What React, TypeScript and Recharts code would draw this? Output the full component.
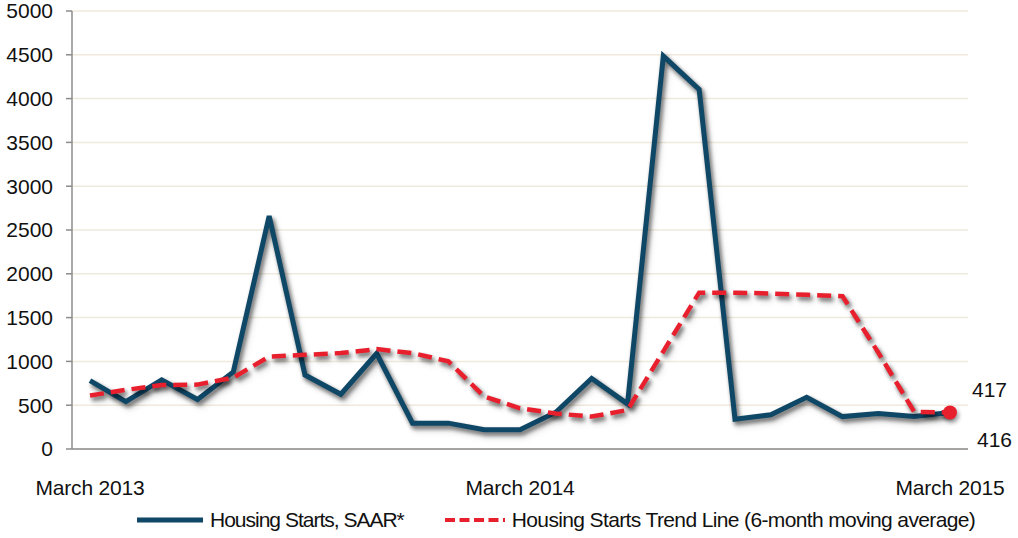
import { LineChart, Line, XAxis, YAxis, CartesianGrid, Legend } from "recharts"

const months = [
  "March 2013", "April 2013", "May 2013", "June 2013", "July 2013", "August 2013",
  "September 2013", "October 2013", "November 2013", "December 2013", "January 2014", "February 2014",
  "March 2014", "April 2014", "May 2014", "June 2014", "July 2014", "August 2014",
  "September 2014", "October 2014", "November 2014", "December 2014", "January 2015", "February 2015",
  "March 2015"
]

const starts = [780, 540, 790, 565, 880, 2660, 845, 625, 1090, 295, 295, 220, 220, 420, 805, 515, 4485, 4105, 340, 390, 590, 370, 405, 370, 416]

const trend = [610, 675, 730, 735, 815, 1055, 1075, 1095, 1140, 1095, 1000, 600, 465, 405, 370, 445, 1115, 1785, 1785, 1775, 1760, 1745, 1100, 425, 417]

const yTicks = [0, 500, 1000, 1500, 2000, 2500, 3000, 3500, 4000, 4500, 5000]

const BLUE = "#0f4767"
const RED = "#e8202e"
const FONT = "'Liberation Sans', Arial, sans-serif"

const data = months.map((m, i) => ({ month: m, starts: starts[i], trend: trend[i] }))
const last = data.length - 1

function TrendDot(props: any) {
  if (props.index !== last) return null
  return <circle cx={props.cx} cy={props.cy} r={7} fill={RED} className="shadowed" />
}

function TrendLabel(props: any) {
  if (props.index !== last) return null
  return (
    <text x={props.x + 22} y={props.y - 15} fontSize={21} fill="#111" fontFamily={FONT}>
      {props.value}
    </text>
  )
}

function StartsLabel(props: any) {
  if (props.index !== last) return null
  return (
    <text x={props.x + 27} y={props.y + 34} fontSize={21} fill="#111" fontFamily={FONT}>
      {props.value}
    </text>
  )
}

function LegendContent() {
  return (
    <div style={{ display: "flex", alignItems: "center", fontFamily: FONT, fontSize: 21, color: "#111", whiteSpace: "nowrap" }}>
      <svg width={66} height={8}>
        <line x1={0} y1={4} x2={66} y2={4} stroke={BLUE} strokeWidth={5} />
      </svg>
      <span style={{ marginLeft: 7, letterSpacing: -1 }}>Housing Starts, SAAR*</span>
      <svg width={60} height={8} style={{ marginLeft: 41 }}>
        <line x1={0} y1={4} x2={60} y2={4} stroke={RED} strokeWidth={4} strokeDasharray="10 4.5" />
      </svg>
      <span style={{ marginLeft: 7, letterSpacing: -0.63 }}>Housing Starts Trend Line (6-month moving average)</span>
    </div>
  )
}

export default function App() {
  return (
    <div style={{ position: "absolute", left: 0, top: 0, width: 1018, height: 538, background: "#fff" }}>
      <style>{`.shadowed, .shadowed .recharts-line-curve { filter: drop-shadow(2px 3px 2px rgba(0,0,0,0.35)); }`}</style>
      <LineChart width={1018} height={538} data={data} margin={{ top: 11, right: 50, bottom: 0, left: 0 }}>
        <CartesianGrid vertical={false} stroke="#efeadc" strokeWidth={1.5} />
        <XAxis
          dataKey="month"
          interval={11}
          padding={{ left: 18, right: 18 }}
          tickSize={0}
          tickMargin={31}
          height={65}
          axisLine={{ stroke: "#8c8c8c", strokeWidth: 1.5 }}
          tick={{ fontSize: 21, fill: "#111", fontFamily: FONT, letterSpacing: -0.2 }}
        />
        <YAxis
          domain={[0, 5000]}
          ticks={yTicks}
          width={72}
          tickSize={6}
          tickMargin={13}
          interval={0}
          axisLine={{ stroke: "#8c8c8c", strokeWidth: 1.5 }}
          tickLine={{ stroke: "#8c8c8c", strokeWidth: 1.5 }}
          tick={{ fontSize: 21, fill: "#111", fontFamily: FONT }}
        />
        <Legend content={<LegendContent />} wrapperStyle={{ left: 137, top: 508, width: "auto" }} />
        <Line
          dataKey="starts"
          name="Housing Starts, SAAR*"
          stroke={BLUE}
          strokeWidth={5}
          dot={false}
          activeDot={false}
          className="shadowed"
          label={<StartsLabel />}
          isAnimationActive={false}
        />
        <Line
          dataKey="trend"
          name="Housing Starts Trend Line (6-month moving average)"
          stroke={RED}
          strokeWidth={4.5}
          strokeDasharray="14 7"
          dot={<TrendDot />}
          activeDot={false}
          className="shadowed"
          label={<TrendLabel />}
          isAnimationActive={false}
        />
      </LineChart>
    </div>
  )
}
